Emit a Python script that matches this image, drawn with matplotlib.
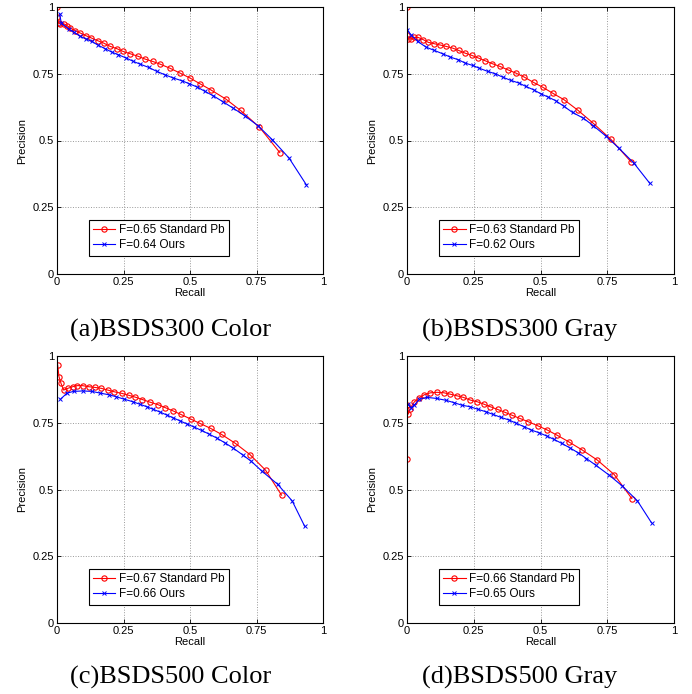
import numpy as np
import matplotlib
matplotlib.use('Agg')
import matplotlib.pyplot as plt

plt.rcParams['font.family'] = ['Liberation Sans', 'DejaVu Sans']

# (a) BSDS300 Color
a_pb_r = [0.0, 0.0, 0.006, 0.0125, 0.025, 0.0375, 0.05, 0.069, 0.0875, 0.109, 0.129, 0.1525, 0.175,
          0.2, 0.225, 0.2475, 0.275, 0.306, 0.331, 0.36, 0.3875, 0.424, 0.4625, 0.5, 0.5375, 0.5775,
          0.635, 0.69, 0.761, 0.8375]
a_pb_p = [1.0, 0.9625, 0.94, 0.9375, 0.9375, 0.93, 0.921, 0.911, 0.9025, 0.8925, 0.884, 0.874, 0.865,
          0.8525, 0.844, 0.834, 0.825, 0.815, 0.805, 0.796, 0.786, 0.771, 0.7525, 0.734, 0.7125, 0.69,
          0.655, 0.6125, 0.55, 0.455]
a_our_r = [0.01, 0.016, 0.044, 0.065, 0.0875, 0.11, 0.131, 0.156, 0.181, 0.206, 0.231, 0.26, 0.2875,
           0.3125, 0.344, 0.375, 0.406, 0.4375, 0.469, 0.4975, 0.5275, 0.556, 0.5875, 0.6225, 0.6625,
           0.706, 0.756, 0.81, 0.8725, 0.9375]
a_our_p = [0.975, 0.94, 0.9175, 0.905, 0.89, 0.88, 0.871, 0.856, 0.844, 0.831, 0.821, 0.809, 0.796,
           0.786, 0.774, 0.759, 0.746, 0.734, 0.724, 0.7125, 0.70, 0.684, 0.6675, 0.646, 0.621,
           0.5925, 0.555, 0.5025, 0.434, 0.334]

# (b) BSDS300 Gray
b_pb_r = [0.0, 0.0, 0.004, 0.015, 0.027, 0.042, 0.061, 0.08, 0.102, 0.125, 0.146, 0.171, 0.193, 0.217,
          0.242, 0.267, 0.292, 0.32, 0.348, 0.377, 0.408, 0.439, 0.474, 0.5075, 0.545, 0.5885, 0.641,
          0.697, 0.763, 0.84]
b_pb_p = [1.0, 0.896, 0.88, 0.88, 0.886, 0.886, 0.8775, 0.8675, 0.8625, 0.8575, 0.8525, 0.846, 0.8375,
          0.8275, 0.819, 0.809, 0.799, 0.7875, 0.7775, 0.765, 0.7525, 0.7375, 0.7175, 0.70, 0.6775,
          0.6525, 0.6125, 0.565, 0.505, 0.419]
b_our_r = [0.0, 0.015, 0.04, 0.071, 0.102, 0.133, 0.162, 0.192, 0.218, 0.246, 0.27, 0.302, 0.33, 0.358,
           0.389, 0.42, 0.445, 0.474, 0.501, 0.529, 0.557, 0.5885, 0.62, 0.66, 0.697, 0.744, 0.794,
           0.85, 0.909]
b_our_p = [0.915, 0.896, 0.871, 0.85, 0.8375, 0.825, 0.8125, 0.8025, 0.79, 0.781, 0.771, 0.759, 0.75,
           0.7375, 0.725, 0.715, 0.7025, 0.69, 0.675, 0.6625, 0.649, 0.6275, 0.605, 0.584, 0.556,
           0.5175, 0.471, 0.415, 0.34]

# (c) BSDS500 Color
c_pb_r = [0.0025, 0.0075, 0.015, 0.025, 0.041, 0.059, 0.075, 0.096, 0.119, 0.141, 0.166, 0.19, 0.215,
          0.244, 0.269, 0.294, 0.321, 0.35, 0.379, 0.406, 0.435, 0.466, 0.5025, 0.5375, 0.5775, 0.619,
          0.671, 0.725, 0.784, 0.844]
c_pb_p = [0.966, 0.9225, 0.8975, 0.8725, 0.879, 0.885, 0.889, 0.889, 0.885, 0.8825, 0.879, 0.8725,
          0.866, 0.86, 0.853, 0.846, 0.837, 0.827, 0.818, 0.807, 0.795, 0.781, 0.764, 0.7475, 0.729,
          0.706, 0.6725, 0.631, 0.5725, 0.479]
c_our_r = [0.0125, 0.0375, 0.0625, 0.096, 0.131, 0.1625, 0.194, 0.2225, 0.25, 0.284, 0.3125, 0.3375,
           0.3625, 0.3875, 0.4125, 0.4375, 0.4625, 0.4875, 0.515, 0.544, 0.5725, 0.6, 0.631, 0.6625,
           0.6975, 0.731, 0.769, 0.829, 0.884, 0.931]
c_our_p = [0.8375, 0.861, 0.8675, 0.869, 0.8675, 0.861, 0.855, 0.8475, 0.839, 0.829, 0.819, 0.81,
           0.8, 0.79, 0.779, 0.768, 0.757, 0.746, 0.734, 0.721, 0.707, 0.693, 0.675, 0.655, 0.63,
           0.605, 0.57, 0.52, 0.4575, 0.3625]

# (d) BSDS500 Gray
d_pb_r = [0.0, 0.0, 0.005, 0.011, 0.027, 0.044, 0.065, 0.087, 0.112, 0.137, 0.162, 0.187, 0.211, 0.237,
          0.262, 0.287, 0.312, 0.339, 0.367, 0.395, 0.423, 0.454, 0.489, 0.526, 0.5635, 0.605, 0.657,
          0.713, 0.776, 0.842]
d_pb_p = [0.615, 0.8175, 0.7825, 0.8025, 0.8275, 0.8425, 0.855, 0.862, 0.864, 0.8625, 0.857, 0.851,
          0.845, 0.835, 0.829, 0.82, 0.81, 0.8, 0.789, 0.7775, 0.766, 0.754, 0.739, 0.7225, 0.7025,
          0.679, 0.6475, 0.61, 0.556, 0.466]
d_our_r = [0.0025, 0.015, 0.027, 0.046, 0.075, 0.111, 0.146, 0.177, 0.2045, 0.236, 0.267, 0.296, 0.323,
           0.352, 0.383, 0.41, 0.439, 0.466, 0.495, 0.524, 0.551, 0.58, 0.61, 0.641, 0.672, 0.707,
           0.757, 0.807, 0.863, 0.916]
d_our_p = [0.82, 0.806, 0.816, 0.8375, 0.845, 0.841, 0.834, 0.825, 0.816, 0.81, 0.8, 0.791, 0.781,
           0.77, 0.76, 0.7475, 0.735, 0.7225, 0.7125, 0.70, 0.6875, 0.6725, 0.656, 0.6375, 0.616,
           0.591, 0.554, 0.5125, 0.4575, 0.375]

ticks = [0, 0.25, 0.5, 0.75, 1]
tick_labels = ['0', '0.25', '0.5', '0.75', '1']

panels = [
    ('(a)BSDS300 Color', a_pb_r, a_pb_p, a_our_r, a_our_p, 'F=0.65 Standard Pb', 'F=0.64 Ours'),
    ('(b)BSDS300 Gray', b_pb_r, b_pb_p, b_our_r, b_our_p, 'F=0.63 Standard Pb', 'F=0.62 Ours'),
    ('(c)BSDS500 Color', c_pb_r, c_pb_p, c_our_r, c_our_p, 'F=0.67 Standard Pb', 'F=0.66 Ours'),
    ('(d)BSDS500 Gray', d_pb_r, d_pb_p, d_our_r, d_our_p, 'F=0.66 Standard Pb', 'F=0.65 Ours'),
]

W, H = 692, 694
# axes boxes in pixels: left, top, right, bottom
boxes = [(57, 7, 323, 274), (407, 7, 674, 274), (57, 356, 323, 623), (407, 356, 674, 623)]
caption_xy = [(171, 330), (520, 330), (171, 677), (520, 677)]

fig = plt.figure(figsize=(W / 100, H / 100), dpi=100)

for (title, pr, pp, orr, op, lab1, lab2), (l, t, r, b), (cx, cy) in zip(panels, boxes, caption_xy):
    ax = fig.add_axes([l / W, 1 - b / H, (r - l) / W, (b - t) / H])
    ax.plot(pr, pp, color='red', marker='o', markersize=3.8, markerfacecolor='none',
            markeredgewidth=0.8, linewidth=0.8, label=lab1)
    ax.plot(orr, op, color='blue', marker='x', markersize=2.5, markeredgewidth=0.7,
            linewidth=0.8, label=lab2)
    ax.set_xlim(0, 1)
    ax.set_ylim(0, 1)
    ax.set_xticks(ticks)
    ax.set_yticks(ticks)
    ax.set_xticklabels(tick_labels)
    ax.set_yticklabels(tick_labels)
    ax.tick_params(direction='in', top=True, right=True, length=3, width=0.6,
                   labelsize=8, pad=2)
    ax.grid(True, linestyle=':', color='#999999', linewidth=0.7)
    for s in ax.spines.values():
        s.set_linewidth(0.8)
    ax.set_xlabel('Recall', fontsize=8, labelpad=1)
    ax.set_ylabel('Precision', fontsize=8, labelpad=4)
    leg = ax.legend(loc='lower left', bbox_to_anchor=(0.12, 0.069), borderaxespad=0,
                    fontsize=8.5, fancybox=False, edgecolor='black', framealpha=1,
                    handlelength=1.9, handletextpad=0.3, borderpad=0.35, labelspacing=0.3)
    leg.get_frame().set_linewidth(0.8)
    fig.text(cx / W, 1 - cy / H, title, ha='center', va='center', fontsize=19,
             family='Liberation Serif')

fig.savefig('out.png', dpi=100)
